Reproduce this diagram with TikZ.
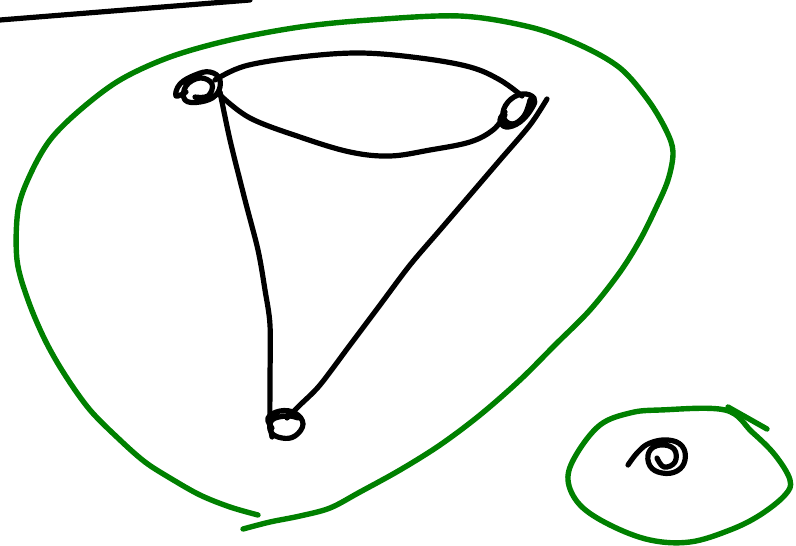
\documentclass[tikz,border=0pt]{standalone}
\definecolor{pen}{RGB}{0,0,0}
\definecolor{penG}{RGB}{0,128,0}
\tikzset{
  ink/.style={draw=pen,line width=5.2pt,line cap=round,line join=round},
  inkG/.style={draw=penG,line width=5.4pt,line cap=round,line join=round},
}
\begin{document}
\begin{tikzpicture}[x=1pt,y=-1pt]
\useasboundingbox (0,0) rectangle (796,546);
% top-left stroke
\draw[ink] (0,20) -- (250,0);
% big green loop
\draw[inkG] plot[smooth,tension=0.55] coordinates {
 (258,515) (230,507) (200,495) (170,478) (145,462) (120,440) (90,410) (65,375)
 (45,340) (28,300) (17,260) (18,210) (30,175) (50,140) (80,110) (120,80)
 (170,57) (230,40) (300,27) (370,20) (460,16) (530,27) (580,45) (620,68)
 (648,100) (666,130) (673,152) (668,180) (655,210) (640,240) (620,272)
 (590,310) (555,345) (520,380) (480,415) (440,445) (400,470) (360,492)
 (330,508) (300,516) (270,522) (243,529)};
% upper arc
\draw[ink] plot[smooth,tension=0.6] coordinates {
 (215,80) (245,66) (300,57) (360,53) (420,58) (470,67) (500,80) (522,96)};
% lower arc
\draw[ink] plot[smooth,tension=0.6] coordinates {
 (220,95) (250,118) (300,137) (350,152) (390,156) (430,150) (470,142) (493,130) (505,115)};
% left edge
\draw[ink] plot[smooth,tension=0.5] coordinates {
 (220,92) (230,140) (245,200) (258,250) (265,290) (270,325) (270,380) (270,420) (272,437)};
% right edge
\draw[ink] plot[smooth,tension=0.5] coordinates {
 (547,99) (530,125) (500,160) (470,195) (440,230) (410,265) (380,305) (350,345) (320,385) (300,405) (287,418)};
% vertex scribbles
\draw[ink] plot[smooth,tension=0.7] coordinates {
 (186,92) (176,96) (180,84) (195,75) (210,72) (220,80) (216,95) (200,102) (185,100) (186,86) (200,78) (212,84) (208,96) (195,97)};
\draw[ink] plot[smooth,tension=0.7] coordinates {
 (505,112) (500,120) (506,127) (520,122) (532,108) (534,98) (522,94) (508,102) (503,116) (512,124) (524,116) (530,100)};
\draw[ink] plot[smooth,tension=0.7] coordinates {
 (272,428) (268,418) (280,411) (295,413) (303,424) (295,436) (282,438) (271,432) (272,420) (287,416) (298,418)};
% small green loop
\draw[inkG] plot[smooth cycle,tension=0.6] coordinates {
 (660,410) (725,410) (752,432) (775,455) (790,480) (785,495) (760,515) (730,530)
 (690,542) (650,540) (610,525) (580,505) (568,480) (576,455) (600,425) (630,413)};
\draw[inkG] (728,407) -- (767,429);
% small black scribble
\draw[ink] plot[smooth,tension=0.7] coordinates {
 (628,465) (638,452) (650,443) (668,440) (682,446) (685,460) (677,471) (662,473) (650,466) (649,452) (660,445) (674,449) (675,462) (664,467) (657,458)};
\end{tikzpicture}
\end{document}
